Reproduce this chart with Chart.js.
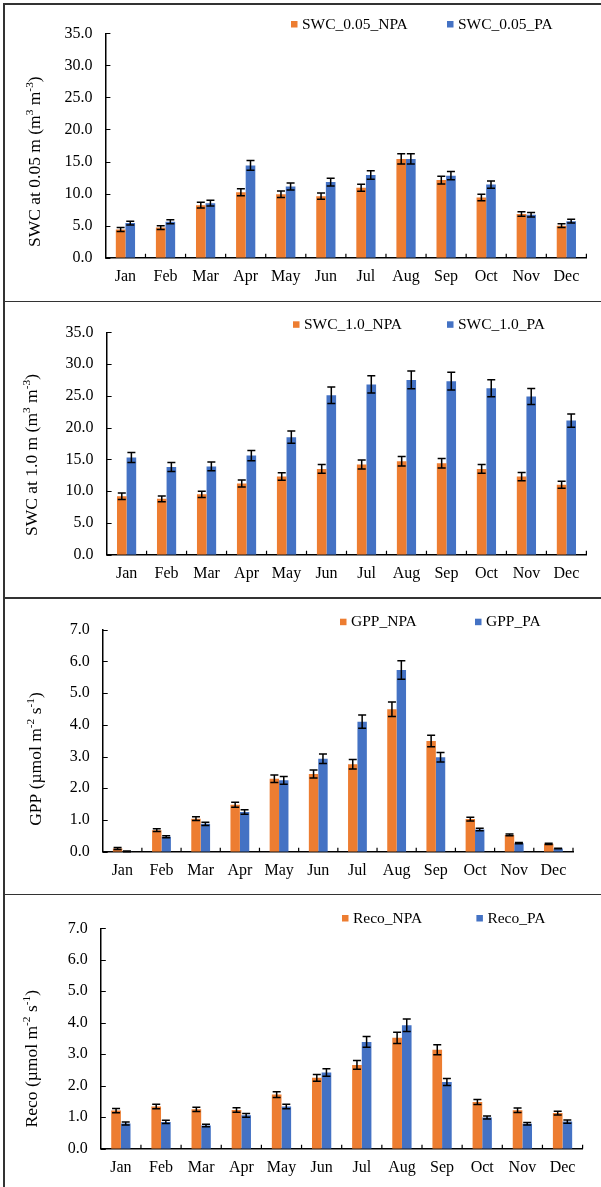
<!DOCTYPE html>
<html>
<head>
<meta charset="utf-8">
<script src="https://cdn.jsdelivr.net/npm/chart.js@4.4.1/dist/chart.umd.min.js"></script>
<style>
  html, body { margin: 0; padding: 0; background: #fff; }
  body { width: 601px; height: 1187px; position: relative; overflow: hidden; }
  canvas { position: absolute; left: 0; }
  .rule { position: absolute; background: #333; }
</style>
</head>
<body>
<canvas id="c1" width="601" height="300" style="top:0px"></canvas>
<canvas id="c2" width="601" height="297" style="top:300px"></canvas>
<canvas id="c3" width="601" height="297" style="top:597px"></canvas>
<canvas id="c4" width="601" height="293" style="top:894px"></canvas>

<div class="rule" style="left:3px;top:3px;width:598px;height:1.5px"></div>
<div class="rule" style="left:3px;top:300.5px;width:598px;height:1.5px"></div>
<div class="rule" style="left:3px;top:597px;width:598px;height:1.5px"></div>
<div class="rule" style="left:3px;top:893.5px;width:598px;height:1.5px"></div>
<div class="rule" style="left:3px;top:3px;width:1.5px;height:1184px"></div>

<script>
// === Data ===
const months = ['Jan','Feb','Mar','Apr','May','Jun','Jul','Aug','Sep','Oct','Nov','Dec'];

const swc005Npa = [4.4, 4.7, 8.2, 10.2, 9.9, 9.6, 10.9, 15.4, 12.1, 9.4, 6.8, 5.0];
const swc005Pa  = [5.4, 5.6, 8.5, 14.4, 11.1, 11.8, 12.9, 15.4, 12.8, 11.4, 6.7, 5.7];
const swc005NpaErr = [0.3, 0.3, 0.45, 0.55, 0.5, 0.5, 0.55, 0.8, 0.6, 0.5, 0.35, 0.3];
const swc005PaErr  = [0.3, 0.3, 0.45, 0.75, 0.55, 0.6, 0.65, 0.8, 0.65, 0.55, 0.35, 0.3];

const swc10Npa = [9.2, 8.8, 9.5, 11.2, 12.3, 13.5, 14.2, 14.7, 14.4, 13.5, 12.3, 11.0];
const swc10Pa  = [15.3, 13.8, 13.9, 15.6, 18.5, 25.1, 26.8, 27.5, 27.3, 26.2, 24.9, 21.1];
const swc10NpaErr = [0.5, 0.45, 0.5, 0.55, 0.6, 0.7, 0.7, 0.75, 0.75, 0.7, 0.65, 0.55];
const swc10PaErr  = [0.8, 0.7, 0.7, 0.8, 0.95, 1.3, 1.35, 1.4, 1.4, 1.35, 1.25, 1.05];

const gppNpa = [0.1, 0.68, 1.04, 1.48, 2.3, 2.45, 2.76, 4.49, 3.49, 1.03, 0.53, 0.25];
const gppPa  = [0.01, 0.47, 0.88, 1.25, 2.25, 2.93, 4.1, 5.73, 2.98, 0.7, 0.27, 0.1];
const gppNpaErr = [0.03, 0.04, 0.06, 0.08, 0.12, 0.13, 0.15, 0.23, 0.18, 0.06, 0.03, 0.02];
const gppPaErr  = [0.01, 0.03, 0.05, 0.07, 0.12, 0.15, 0.21, 0.29, 0.15, 0.04, 0.02, 0.01];

const recoNpa = [1.21, 1.34, 1.25, 1.23, 1.72, 2.25, 2.66, 3.52, 3.14, 1.48, 1.22, 1.13];
const recoPa  = [0.8, 0.85, 0.74, 1.06, 1.34, 2.42, 3.39, 3.92, 2.12, 0.99, 0.79, 0.86];
const recoNpaErr = [0.07, 0.07, 0.07, 0.07, 0.09, 0.11, 0.14, 0.18, 0.16, 0.08, 0.07, 0.06];
const recoPaErr  = [0.05, 0.05, 0.04, 0.06, 0.07, 0.12, 0.17, 0.2, 0.11, 0.05, 0.04, 0.05];

// === Style ===
const ORANGE = '#ED7D31', BLUE = '#4472C4';
const SERIF = "'Liberation Serif', 'Times New Roman', serif";

// draws the rotated axis title, small raised parts for the exponents
function drawTitle(ctx, parts, cx, cy, size) {
  ctx.save();
  ctx.translate(cx, cy);
  ctx.rotate(-Math.PI / 2);
  ctx.fillStyle = '#000';
  ctx.textBaseline = 'middle';
  ctx.textAlign = 'left';
  const fontOf = p => `${p[1] ? size * 0.65 : size}px ${SERIF}`;
  let total = 0;
  parts.forEach(p => { ctx.font = fontOf(p); total += ctx.measureText(p[0]).width; });
  let x = -total / 2;
  parts.forEach(p => {
    ctx.font = fontOf(p);
    ctx.fillText(p[0], x, p[1] ? -size * 0.3 : 0);
    x += ctx.measureText(p[0]).width;
  });
  ctx.restore();
}

function makeChart(id, o) {
  const canvas = document.getElementById(id);
  const H = canvas.height;

  const extras = {
    id: 'extras',
    afterDatasetsDraw(chart) {
      const ctx = chart.ctx, ys = chart.scales.y;
      ctx.save();
      ctx.strokeStyle = '#000';
      ctx.lineWidth = 1.5;
      o.errs.forEach((errs, di) => {
        const vals = chart.data.datasets[di].data;
        chart.getDatasetMeta(di).data.forEach((bar, i) => {
          const t = ys.getPixelForValue(vals[i] + errs[i]);
          const b = ys.getPixelForValue(Math.max(0, vals[i] - errs[i]));
          ctx.beginPath();
          ctx.moveTo(bar.x, t); ctx.lineTo(bar.x, b);
          ctx.moveTo(bar.x - 4, t); ctx.lineTo(bar.x + 4, t);
          ctx.moveTo(bar.x - 4, b); ctx.lineTo(bar.x + 4, b);
          ctx.stroke();
        });
      });
      ctx.restore();
    },
    afterDraw(chart) {
      const ctx = chart.ctx, a = chart.chartArea, xs = chart.scales.x, ys = chart.scales.y;
      ctx.save();
      ctx.strokeStyle = '#000';
      ctx.lineWidth = 1.2;
      ctx.beginPath();
      // inward tick marks
      ys.ticks.forEach(t => {
        const py = Math.round(ys.getPixelForValue(t.value)) + 0.5;
        ctx.moveTo(a.left, py); ctx.lineTo(a.left + 5, py);
      });
      const n = chart.data.labels.length;
      for (let i = 1; i <= n; i++) {
        const px = i === n ? a.right : (xs.getPixelForValue(i - 1) + xs.getPixelForValue(i)) / 2;
        ctx.moveTo(px, a.bottom); ctx.lineTo(px, a.bottom - 4);
      }
      ctx.stroke();

      // legend
      ctx.font = `15.5px ${SERIF}`;
      ctx.textBaseline = 'middle';
      ctx.textAlign = 'left';
      chart.data.datasets.forEach((ds, i) => {
        const lx = o.legendX[i];
        ctx.fillStyle = ds.backgroundColor;
        ctx.fillRect(lx, o.legendY - 3, 6.5, 6.5);
        ctx.fillStyle = '#000';
        ctx.fillText(ds.label, lx + 11, o.legendY + 0.5);
      });
      ctx.restore();

      drawTitle(ctx, o.title, o.titleX, o.titleY, 17.5);
    }
  };

  const tickFont = { family: SERIF, size: 16 };
  return new Chart(canvas, {
    type: 'bar',
    data: {
      labels: months,
      datasets: [
        { label: o.names[0], data: o.series[0], backgroundColor: ORANGE },
        { label: o.names[1], data: o.series[1], backgroundColor: BLUE }
      ]
    },
    options: {
      responsive: false,
      animation: false,
      layout: { padding: { top: o.area.top, right: 601 - o.area.right, left: 0, bottom: 0 } },
      datasets: { bar: { categoryPercentage: 0.48, barPercentage: 1 } },
      plugins: { legend: { display: false }, tooltip: { enabled: false } },
      scales: {
        x: {
          grid: { display: false, drawTicks: false },
          border: { display: true, color: '#000', width: 1.5 },
          ticks: { color: '#000', font: tickFont, padding: 9.5, maxRotation: 0 },
          afterFit: s => { s.height = H - o.area.bottom; }
        },
        y: {
          min: 0, max: o.max,
          grid: { display: false, drawTicks: false },
          border: { display: true, color: '#000', width: 1.5 },
          ticks: { color: '#000', font: tickFont, padding: 13, stepSize: o.step, callback: v => v.toFixed(1) },
          afterFit: s => { s.width = o.area.left; }
        }
      }
    },
    plugins: [extras]
  });
}

// === Panels ===
makeChart('c1', {
  names: ['SWC_0.05_NPA', 'SWC_0.05_PA'],
  series: [swc005Npa, swc005Pa], errs: [swc005NpaErr, swc005PaErr],
  max: 35, step: 5,
  area: { left: 105.4, right: 586.4, top: 33.3, bottom: 257.7 },
  legendX: [291, 447], legendY: 24,
  title: [['SWC at 0.05 m (m'], ['3', 1], [' m'], ['-3', 1], [')']], titleX: 35.6, titleY: 161.7
});

makeChart('c2', {
  names: ['SWC_1.0_NPA', 'SWC_1.0_PA'],
  series: [swc10Npa, swc10Pa], errs: [swc10NpaErr, swc10PaErr],
  max: 35, step: 5,
  area: { left: 106.6, right: 586.4, top: 32.3, bottom: 254.7 },
  legendX: [293, 447], legendY: 24.3,
  title: [['SWC at 1.0 m (m'], ['3', 1], [' m'], ['-3', 1], [')']], titleX: 32.6, titleY: 155
});

makeChart('c3', {
  names: ['GPP_NPA', 'GPP_PA'],
  series: [gppNpa, gppPa], errs: [gppNpaErr, gppPaErr],
  max: 7, step: 1,
  area: { left: 102.7, right: 573, top: 32.7, bottom: 254.7 },
  legendX: [340, 475], legendY: 24.7,
  title: [['GPP (\u00b5mol m'], ['-2', 1], [' s'], ['-1', 1], [')']], titleX: 36.4, titleY: 162
});

makeChart('c4', {
  names: ['Reco_NPA', 'Reco_PA'],
  series: [recoNpa, recoPa], errs: [recoNpaErr, recoPaErr],
  max: 7, step: 1,
  area: { left: 100.8, right: 582.6, top: 34.3, bottom: 254.7 },
  legendX: [342, 476.4], legendY: 24,
  title: [['Reco (\u00b5mol m'], ['-2', 1], [' s'], ['-1', 1], [')']], titleX: 32.6, titleY: 164.7
});
</script>
</body>
</html>
